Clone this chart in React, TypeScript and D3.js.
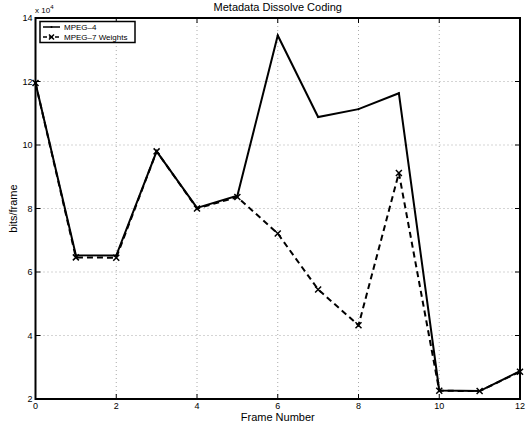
import React, { useEffect, useRef } from 'react';
import * as d3 from 'd3';

const frames = [0, 1, 2, 3, 4, 5, 6, 7, 8, 9, 10, 11, 12];
// values in units of 1e4 bits/frame
const mpeg4 = [11.95, 6.53, 6.52, 9.8, 8.02, 8.4, 13.45, 10.88, 11.13, 11.63, 2.27, 2.25, 2.88];
const mpeg7 = [11.95, 6.46, 6.45, 9.8, 8.0, 8.36, 7.21, 5.45, 4.32, 9.12, 2.26, 2.25, 2.86];
const xTicks = [0, 2, 4, 6, 8, 10, 12];
const yTicks = [2, 4, 6, 8, 10, 12, 14];

const App = () => {
  const svgRef = useRef<SVGSVGElement>(null);

  useEffect(() => {
    const svg = d3.select(svgRef.current);
    svg.selectAll('*').remove();

    const width = 526;
    const height = 430;
    const margin = { top: 18, right: 6, bottom: 31, left: 35.5 };
    const font = 'Liberation Sans, Arial, Helvetica, sans-serif';

    const x = d3.scaleLinear().domain([0, 12]).range([margin.left, width - margin.right]);
    const y = d3.scaleLinear().domain([2, 14]).range([height - margin.bottom, margin.top]);

    svg.attr('width', width).attr('height', height);
    svg.append('rect').attr('width', width).attr('height', height).attr('fill', '#fff');

    // grid
    const grid = svg.append('g').attr('stroke', '#aaa').attr('stroke-width', 1).attr('stroke-dasharray', '1,3');
    xTicks.slice(1, -1).forEach((t) => {
      grid.append('line').attr('x1', x(t)).attr('x2', x(t)).attr('y1', y(2)).attr('y2', y(14));
    });
    yTicks.slice(1, -1).forEach((t) => {
      grid.append('line').attr('x1', x(0)).attr('x2', x(12)).attr('y1', y(t)).attr('y2', y(t));
    });

    // ticks (inward, on all sides)
    const ticks = svg.append('g').attr('stroke', '#000').attr('stroke-width', 1);
    xTicks.forEach((t) => {
      ticks.append('line').attr('x1', x(t)).attr('x2', x(t)).attr('y1', y(2)).attr('y2', y(2) - 5);
      ticks.append('line').attr('x1', x(t)).attr('x2', x(t)).attr('y1', y(14)).attr('y2', y(14) + 5);
    });
    yTicks.forEach((t) => {
      ticks.append('line').attr('x1', x(0)).attr('x2', x(0) + 5).attr('y1', y(t)).attr('y2', y(t));
      ticks.append('line').attr('x1', x(12)).attr('x2', x(12) - 5).attr('y1', y(t)).attr('y2', y(t));
    });

    // lines
    const line = d3
      .line<number>()
      .x((_, i) => x(frames[i]))
      .y((d) => y(d));

    svg.append('path').datum(mpeg4).attr('d', line).attr('fill', 'none').attr('stroke', '#000').attr('stroke-width', 2);
    svg
      .append('path')
      .datum(mpeg7)
      .attr('d', line)
      .attr('fill', 'none')
      .attr('stroke', '#000')
      .attr('stroke-width', 2)
      .attr('stroke-dasharray', '6,4');

    const cross = (g: any, cx: number, cy: number, s: number) => {
      g.append('path')
        .attr('d', `M${cx - s},${cy - s}L${cx + s},${cy + s}M${cx - s},${cy + s}L${cx + s},${cy - s}`)
        .attr('stroke', '#000')
        .attr('stroke-width', 1.5);
    };
    const marks = svg.append('g');
    mpeg7.forEach((v, i) => cross(marks, x(frames[i]), y(v), 3));
    mpeg4.forEach((v, i) => {
      marks.append('circle').attr('cx', x(frames[i])).attr('cy', y(v)).attr('r', 1).attr('fill', '#000');
    });

    // axes box
    svg
      .append('rect')
      .attr('x', x(0))
      .attr('y', y(14))
      .attr('width', x(12) - x(0))
      .attr('height', y(2) - y(14))
      .attr('fill', 'none')
      .attr('stroke', '#000')
      .attr('stroke-width', 2);

    // tick labels
    const labels = svg.append('g').attr('font-family', font).attr('font-size', 9).attr('fill', '#000');
    xTicks.forEach((t) => {
      labels
        .append('text')
        .attr('x', x(t))
        .attr('y', y(2) + 10)
        .attr('text-anchor', 'middle')
        .text(t);
    });
    yTicks.forEach((t) => {
      labels
        .append('text')
        .attr('x', x(0) - 3)
        .attr('y', y(t) + 3)
        .attr('text-anchor', 'end')
        .text(t);
    });

    // exponent
    const exp = svg.append('text').attr('font-family', font).attr('font-size', 8).attr('x', 35).attr('y', 13);
    exp.append('tspan').text('x 10');
    exp.append('tspan').attr('font-size', 6).attr('dy', -4).text('4');

    // titles
    svg
      .append('text')
      .attr('x', (x(0) + x(12)) / 2)
      .attr('y', 11)
      .attr('text-anchor', 'middle')
      .attr('font-family', font)
      .attr('font-size', 11)
      .text('Metadata Dissolve Coding');
    svg
      .append('text')
      .attr('x', (x(0) + x(12)) / 2)
      .attr('y', 421)
      .attr('text-anchor', 'middle')
      .attr('font-family', font)
      .attr('font-size', 11)
      .text('Frame Number');
    svg
      .append('text')
      .attr('transform', `translate(17,${(y(2) + y(14)) / 2}) rotate(-90)`)
      .attr('text-anchor', 'middle')
      .attr('font-family', font)
      .attr('font-size', 11)
      .text('bits/frame');

    // legend
    const lg = svg.append('g');
    lg.append('rect')
      .attr('x', 40)
      .attr('y', 21.5)
      .attr('width', 95)
      .attr('height', 21)
      .attr('fill', '#fff')
      .attr('stroke', '#000')
      .attr('stroke-width', 1.5);
    lg.append('line').attr('x1', 43).attr('x2', 60).attr('y1', 27).attr('y2', 27).attr('stroke', '#000').attr('stroke-width', 1.5);
    lg.append('circle').attr('cx', 51.5).attr('cy', 27).attr('r', 1).attr('fill', '#000');
    lg.append('line')
      .attr('x1', 43)
      .attr('x2', 60)
      .attr('y1', 37)
      .attr('y2', 37)
      .attr('stroke', '#000')
      .attr('stroke-width', 1.5)
      .attr('stroke-dasharray', '4,2');
    cross(lg, 51.5, 37, 2.5);
    lg.append('text').attr('x', 64).attr('y', 30).attr('font-family', font).attr('font-size', 8).text('MPEG\u20134');
    lg.append('text').attr('x', 64).attr('y', 40).attr('font-family', font).attr('font-size', 8).text('MPEG\u20137 Weights');
  }, []);

  return <svg ref={svgRef} style={{ display: 'block', position: 'absolute', left: 0, top: 0 }} />;
};

export default App;
